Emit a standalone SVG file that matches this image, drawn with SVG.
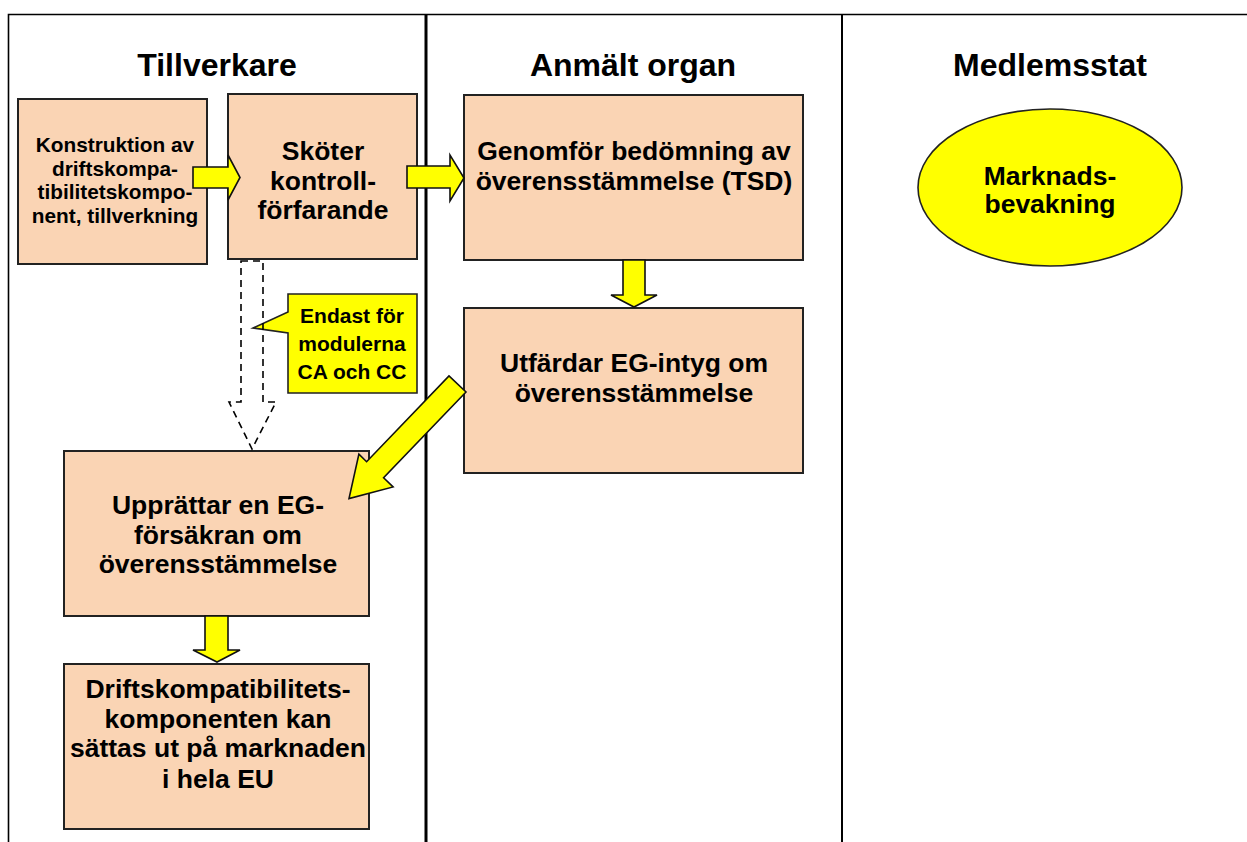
<svg xmlns="http://www.w3.org/2000/svg" width="1247" height="842" viewBox="0 0 1247 842">
<style>
.box{fill:#FAD4B4;stroke:#222;stroke-width:2}
.arr{fill:#FFFF00;stroke:#111;stroke-width:1.6;stroke-linejoin:miter}
.t{font-family:"Liberation Sans",Arial,sans-serif;font-weight:bold;fill:#000;text-anchor:middle}
.h{font-size:32px}
.b{font-size:26.5px}
.s{font-size:20.8px}
.c{font-size:21px}
.lane{stroke:#000;fill:none}
</style>
<rect width="1247" height="842" fill="#fff"/>
<g id="lanes">
<path class="lane" d="M8.5,842 V14.5 H1247" stroke-width="1.6"/>
<line class="lane" x1="426" y1="14" x2="426" y2="842" stroke-width="3"/>
<line class="lane" x1="842" y1="14" x2="842" y2="842" stroke-width="2"/>
<text class="t h" x="217" y="76">Tillverkare</text>
<text class="t h" x="633" y="76">Anmält organ</text>
<text class="t h" x="1050" y="76">Medlemsstat</text>
</g>
<g id="n_konstruktion">
<rect class="box" x="18" y="99" width="189" height="165"/>
<text class="t s" x="115" y="152">Konstruktion av</text>
<text class="t s" x="115" y="175.5">driftskompa-</text>
<text class="t s" x="115" y="199">tibilitetskompo-</text>
<text class="t s" x="115" y="222.5">nent, tillverkning</text>
</g>
<g id="n_skoter">
<rect class="box" x="228" y="94" width="189" height="165"/>
<text class="t b" x="323" y="160">Sköter</text>
<text class="t b" x="323" y="190">kontroll-</text>
<text class="t b" x="323" y="219">förfarande</text>
</g>
<g id="n_callout">
<path d="M288,294 H417 V393 H288 V333 L253,328 L288,312 Z" fill="#FFFF00" stroke="#222" stroke-width="1.6"/>
<text class="t c" x="352" y="323">Endast för</text>
<text class="t c" x="352" y="351">modulerna</text>
<text class="t c" x="352" y="379">CA och CC</text>
</g>
<g id="n_genomfor">
<rect class="box" x="464" y="95" width="339" height="165"/>
<text class="t b" x="634" y="160">Genomför bedömning av</text>
<text class="t b" x="634" y="190">överensstämmelse (TSD)</text>
</g>
<g id="n_utfardar">
<rect class="box" x="464" y="308" width="339" height="165"/>
<text class="t b" x="634" y="372">Utfärdar EG-intyg om</text>
<text class="t b" x="634" y="402">överensstämmelse</text>
</g>
<g id="n_upprattar">
<rect class="box" x="64" y="451" width="305" height="165"/>
<text class="t b" x="218" y="514">Upprättar en EG-</text>
<text class="t b" x="218" y="544">försäkran om</text>
<text class="t b" x="218" y="573">överensstämmelse</text>
</g>
<g id="n_drifts">
<rect class="box" x="64" y="664" width="305" height="165"/>
<text class="t b" x="218" y="698">Driftskompatibilitets-</text>
<text class="t b" x="218" y="728">komponenten kan</text>
<text class="t b" x="218" y="757">sättas ut på marknaden</text>
<text class="t b" x="218" y="788">i hela EU</text>
</g>
<g id="n_marknad">
<ellipse cx="1050" cy="187.5" rx="132" ry="78.5" fill="#FFFF00" stroke="#222" stroke-width="1.6"/>
<text class="t b" x="1050" y="185">Marknads-</text>
<text class="t b" x="1050" y="213">bevakning</text>
</g>
<g id="connectors">
<polygon class="arr" points="193,167 228,167 228,155 240,177.5 228,200 228,188 193,188"/>
<polygon class="arr" points="407,166 450,166 450,155 464,178 450,201 450,188 407,188"/>
<polygon class="arr" points="623,260 645,260 645,295 657,295 634,307 611,295 623,295"/>
<polygon class="arr" points="205,616 228,616 228,650 240,650 217,662 193,650 205,650"/>
<polygon class="arr" points="466,392 383.6,477.7 393.1,486.9 349,498.6 358.9,454.1 366.6,461.7 449,376"/>
<polygon points="241,261 263,261 263,402 276,402 252,449 229,402 241,402" fill="none" stroke="#000" stroke-width="1.6" stroke-dasharray="7,5"/>
</g>
</svg>
